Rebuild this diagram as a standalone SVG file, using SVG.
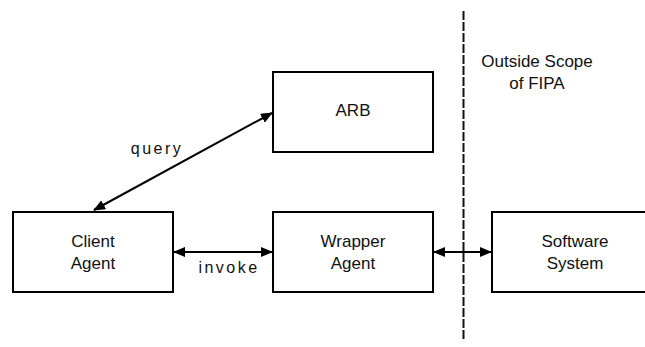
<svg xmlns="http://www.w3.org/2000/svg" width="645" height="347" viewBox="0 0 645 347">
  <style>
    .box { fill: #fff; stroke: #000; stroke-width: 2; }
    .lbl { font-family: "Liberation Sans", Arial, sans-serif; font-size: 17px; fill: #111; text-anchor: middle; }
    .edge { font-family: "Liberation Sans", Arial, sans-serif; font-size: 16px; fill: #111; text-anchor: middle; letter-spacing: 2.5px; }
    .conn { stroke: #000; stroke-width: 2; fill: none; marker-start: url(#arrow); marker-end: url(#arrow); }
    .scope { stroke: #111; stroke-width: 2; stroke-dasharray: 9 2; fill: none; }
  </style>
  <defs>
    <marker id="arrow" markerUnits="userSpaceOnUse" markerWidth="12" markerHeight="10" refX="11" refY="5" orient="auto-start-reverse">
      <path d="M0,0 L12,5 L0,10 z" fill="#000"/>
    </marker>
  </defs>

  <rect width="645" height="347" fill="#fff"/>

  <!-- boundary of the FIPA scope -->
  <g id="scope-boundary">
    <line class="scope" x1="463.5" y1="11" x2="463.5" y2="341"/>
    <text class="lbl" x="537" y="67">Outside Scope</text>
    <text class="lbl" x="537" y="88.5">of FIPA</text>
  </g>

  <g id="connectors">
    <line class="conn" x1="94" y1="210" x2="272" y2="113"/>
    <text class="edge" x="157" y="154">query</text>
    <line class="conn" x1="174" y1="252" x2="272" y2="252"/>
    <text class="edge" x="229" y="273">invoke</text>
    <line class="conn" x1="434" y1="252" x2="491" y2="252"/>
  </g>

  <g id="arb">
    <rect class="box" x="273" y="72" width="160" height="80"/>
    <text class="lbl" x="353" y="116">ARB</text>
  </g>

  <g id="client-agent">
    <rect class="box" x="13" y="212" width="160" height="80"/>
    <text class="lbl" x="93" y="247">Client</text>
    <text class="lbl" x="93" y="268.5">Agent</text>
  </g>

  <g id="wrapper-agent">
    <rect class="box" x="273" y="212" width="160" height="80"/>
    <text class="lbl" x="353" y="247">Wrapper</text>
    <text class="lbl" x="353" y="268.5">Agent</text>
  </g>

  <g id="software-system">
    <rect class="box" x="492" y="212" width="165" height="80"/>
    <text class="lbl" x="575" y="247">Software</text>
    <text class="lbl" x="575" y="268.5">System</text>
  </g>
</svg>
